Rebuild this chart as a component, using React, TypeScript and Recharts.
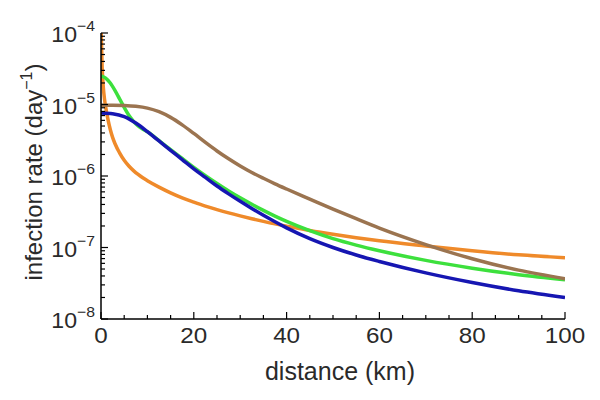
import { LineChart, Line, XAxis, YAxis } from "recharts"

// distance (km) and infection rate (day^-1)
const orangeKm = [0, 0.25, 0.5, 0.75, 1, 1.5, 2, 2.5, 3, 4, 5, 6, 7, 8, 9, 10, 12.5, 15, 17.5, 20, 22.5, 25, 27.5, 30, 32.5, 35, 37.5, 40, 45, 50, 55, 60, 70, 80, 90, 100]
const orangeRate = [1.26e-4, 3.3e-5, 1.74e-5, 1.2e-5, 9.3e-6, 6.2e-6, 4.47e-6, 3.47e-6, 2.85e-6, 2.11e-6, 1.66e-6, 1.38e-6, 1.19e-6, 1.05e-6, 9.44e-7, 8.61e-7, 7.0e-7, 5.82e-7, 4.95e-7, 4.32e-7, 3.8e-7, 3.39e-7, 3.05e-7, 2.77e-7, 2.53e-7, 2.32e-7, 2.14e-7, 1.99e-7, 1.73e-7, 1.53e-7, 1.37e-7, 1.24e-7, 1.05e-7, 9.0e-8, 7.9e-8, 7.2e-8]

const greenKm = [0, 1, 2, 3, 4, 5, 6, 7, 8, 9, 10, 12.5, 15, 17.5, 20, 22.5, 25, 27.5, 30, 32.5, 35, 37.5, 40, 45, 50, 55, 60, 70, 80, 90, 100]
const greenRate = [2.51e-5, 2.34e-5, 2.0e-5, 1.58e-5, 1.2e-5, 9.1e-6, 7.08e-6, 5.82e-6, 5.01e-6, 4.52e-6, 4.17e-6, 3.13e-6, 2.34e-6, 1.76e-6, 1.32e-6, 1.01e-6, 7.85e-7, 6.17e-7, 4.95e-7, 4.03e-7, 3.31e-7, 2.75e-7, 2.32e-7, 1.72e-7, 1.33e-7, 1.08e-7, 9.0e-8, 6.6e-8, 5.13e-8, 4.17e-8, 3.55e-8]

const blueKm = [0, 2.5, 5, 7.5, 10, 12.5, 15, 17.5, 20, 22.5, 25, 27.5, 30, 32.5, 35, 37.5, 40, 45, 50, 55, 60, 70, 80, 90, 100]
const blueRate = [7.6e-6, 7.41e-6, 6.76e-6, 5.5e-6, 4.17e-6, 3.09e-6, 2.29e-6, 1.7e-6, 1.26e-6, 9.55e-7, 7.24e-7, 5.62e-7, 4.42e-7, 3.51e-7, 2.82e-7, 2.29e-7, 1.88e-7, 1.33e-7, 1.0e-7, 7.85e-8, 6.38e-8, 4.42e-8, 3.24e-8, 2.48e-8, 2.0e-8]

const brownKm = [0, 2.5, 5, 7.5, 10, 12.5, 15, 17.5, 20, 22.5, 25, 27.5, 30, 32.5, 35, 37.5, 40, 45, 50, 55, 60, 70, 80, 90, 100]
const brownRate = [9.8e-6, 9.8e-6, 9.7e-6, 9.44e-6, 8.91e-6, 7.94e-6, 6.61e-6, 5.19e-6, 3.94e-6, 2.95e-6, 2.24e-6, 1.74e-6, 1.38e-6, 1.12e-6, 9.29e-7, 7.78e-7, 6.58e-7, 4.76e-7, 3.45e-7, 2.53e-7, 1.87e-7, 1.1e-7, 6.97e-8, 4.82e-8, 3.66e-8]

const xTicks = [0, 5, 10, 15, 20, 25, 30, 35, 40, 45, 50, 55, 60, 65, 70, 75, 80, 85, 90, 95, 100]
const decades = [-8, -7, -6, -5, -4]
const yTicks = decades.flatMap((d) => (d === -4 ? [1e-4] : [1, 2, 3, 4, 5, 6, 7, 8, 9].map((m) => m * Math.pow(10, d))))

const toRows = (km: number[], rate: number[]) => km.map((k, i) => ({ km: k, rate: rate[i] }))

const FONT = "'Liberation Sans', Arial, sans-serif"
const TEXT = "#2a2a2a"

const isMajorY = (v: number) => Math.abs(Math.log10(v) - Math.round(Math.log10(v))) < 1e-6

function BottomTick({ x, y, payload }: any) {
  const major = payload.value % 20 === 0
  return (
    <g>
      <line x1={x} y1={y} x2={x} y2={y - (major ? 7 : 4)} stroke="#000" strokeWidth={1.2} />
      {major && (
        <g transform={`translate(${x},${y + 24}) scale(1.1,1)`}>
          <text x={0} y={0} textAnchor="middle" fontSize={22} fontFamily={FONT} fill={TEXT}>
            {payload.value}
          </text>
        </g>
      )}
    </g>
  )
}

function TopTick({ x, y, payload }: any) {
  const major = payload.value % 20 === 0
  return <line x1={x} y1={y} x2={x} y2={y + (major ? 7 : 4)} stroke="#000" strokeWidth={1.2} />
}

function LeftTick({ x, y, payload }: any) {
  const major = isMajorY(payload.value)
  return (
    <g>
      <line x1={x} y1={y} x2={x + (major ? 7 : 4)} y2={y} stroke="#000" strokeWidth={1.2} />
      {major && (
        <g transform={`translate(${x - 6},${y + 9}) scale(1.05,1)`}>
          <text x={0} y={0} textAnchor="end" fontSize={22} fontFamily={FONT} fill={TEXT}>
            10
            <tspan dy={-11} fontSize={15}>
              {"\u2212" + Math.round(-Math.log10(payload.value))}
            </tspan>
          </text>
        </g>
      )}
    </g>
  )
}

function RightTick({ x, y, payload }: any) {
  const major = isMajorY(payload.value)
  return <line x1={x} y1={y} x2={x - (major ? 7 : 4)} y2={y} stroke="#000" strokeWidth={1.2} />
}

export default function App() {
  return (
    <div style={{ position: "absolute", left: 0, top: 0, width: 600, height: 400, background: "#fff" }}>
      <LineChart width={600} height={400} margin={{ top: 33, right: 35, bottom: 0, left: 0 }}>
        <XAxis
          xAxisId="b"
          type="number"
          dataKey="km"
          domain={[0, 100]}
          ticks={xTicks}
          interval={0}
          height={81}
          tickSize={0}
          tickMargin={0}
          tickLine={false}
          tick={(p: any) => <BottomTick {...p} />}
          axisLine={{ stroke: "#000", strokeWidth: 1.5 }}
          allowDataOverflow
        />
        <XAxis
          xAxisId="t"
          orientation="top"
          type="number"
          dataKey="km"
          domain={[0, 100]}
          ticks={xTicks}
          interval={0}
          height={0}
          tickSize={0}
          tickMargin={0}
          tickLine={false}
          tick={(p: any) => <TopTick {...p} />}
          axisLine={{ stroke: "#000", strokeWidth: 1.5 }}
          allowDataOverflow
        />
        <YAxis
          yAxisId="l"
          scale="log"
          domain={[1e-8, 1e-4]}
          ticks={yTicks}
          interval={0}
          width={101}
          tickSize={0}
          tickMargin={0}
          tickLine={false}
          tick={(p: any) => <LeftTick {...p} />}
          axisLine={{ stroke: "#000", strokeWidth: 1.5 }}
          allowDataOverflow
        />
        <YAxis
          yAxisId="r"
          orientation="right"
          scale="log"
          domain={[1e-8, 1e-4]}
          ticks={yTicks}
          interval={0}
          width={0}
          tickSize={0}
          tickMargin={0}
          tickLine={false}
          tick={(p: any) => <RightTick {...p} />}
          axisLine={{ stroke: "#000", strokeWidth: 1.5 }}
          allowDataOverflow
        />
        <Line xAxisId="b" yAxisId="l" data={toRows(orangeKm, orangeRate)} dataKey="rate" type="monotone" stroke="#EF8A2A" strokeWidth={3.5} dot={false} isAnimationActive={false} />
        <Line xAxisId="b" yAxisId="l" data={toRows(greenKm, greenRate)} dataKey="rate" type="monotone" stroke="#3DE03D" strokeWidth={3.5} dot={false} isAnimationActive={false} />
        <Line xAxisId="b" yAxisId="l" data={toRows(blueKm, blueRate)} dataKey="rate" type="monotone" stroke="#1616B2" strokeWidth={3.5} dot={false} isAnimationActive={false} />
        <Line xAxisId="b" yAxisId="l" data={toRows(brownKm, brownRate)} dataKey="rate" type="monotone" stroke="#9B7450" strokeWidth={3.5} dot={false} isAnimationActive={false} />
        <text x={340} y={380} textAnchor="middle" fontSize={25} fontFamily={FONT} fill={TEXT}>
          distance (km)
        </text>
        <text x={42} y={172} textAnchor="middle" fontSize={24} fontFamily={FONT} fill={TEXT} transform="rotate(-90, 42, 172)">
          infection rate (day
          <tspan dy={-10} fontSize={16}>
            −1
          </tspan>
          <tspan dy={10}>)</tspan>
        </text>
      </LineChart>
    </div>
  )
}
